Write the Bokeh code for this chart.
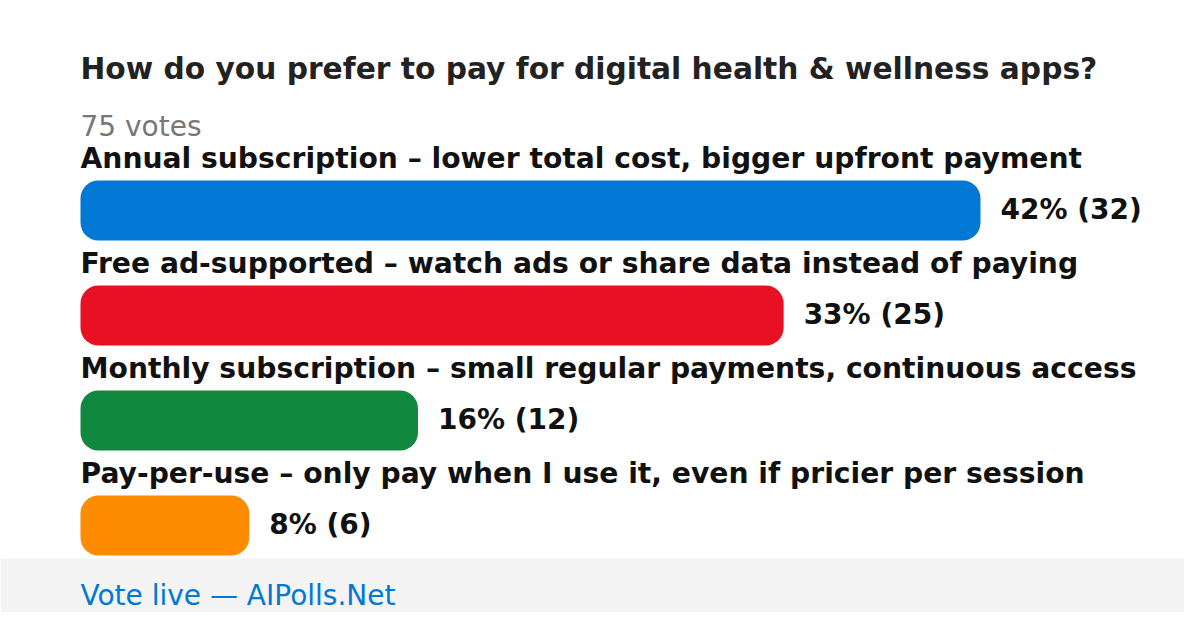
import math
from bokeh.plotting import figure
from bokeh.models import Range1d, BoxAnnotation, ColumnDataSource
from bokeh.core.properties import value
from bokeh.embed import file_html
from bokeh.resources import INLINE

title = "How do you prefer to pay for digital health & wellness apps?"
total_votes = 75
options = [
    "Annual subscription \u2013 lower total cost, bigger upfront payment",
    "Free ad-supported \u2013 watch ads or share data instead of paying",
    "Monthly subscription \u2013 small regular payments, continuous access",
    "Pay-per-use \u2013 only pay when I use it, even if pricier per session",
]
votes = [32, 25, 12, 6]
colors = ["#0078d4", "#e81123", "#10893e", "#ff8c00"]
footer = "Vote live \u2014 AIPolls.Net"

FONT = value("DejaVu Sans")
W, H = 1184, 612
ppv = 900 / max(votes)  # pixels per vote
left_px = 80
x0 = (0 - left_px) / ppv
x1 = (W - left_px) / ppv

p = figure(width=W, height=H, output_backend="svg", toolbar_location=None,
           x_range=Range1d(x0, x1), y_range=Range1d(H, 0),
           min_border=0, outline_line_color=None)
p.axis.visible = False
p.grid.visible = False
p.background_fill_color = "white"
p.border_fill_color = "white"

centers = [210 + 105 * i for i in range(len(votes))]
labels_y = [c - 52 for c in centers]
pct = [f"{math.floor(v * 100 / total_votes)}% ({v})" for v in votes]

src = ColumnDataSource(dict(opt=options, votes=votes, color=colors, y=centers,
                            ly=labels_y, vy=[c - 1 for c in centers], pct=pct,
                            zero=[0] * len(votes)))

p.hbar(y="y", left="zero", right="votes", height=60, fill_color="color",
       line_color=None, border_radius=18, source=src)

p.text(x="zero", y="ly", text="opt", source=src, text_font=FONT,
       text_font_style="bold", text_font_size="28.2px", text_color="#111111",
       text_baseline="alphabetic", text_align="left")

p.text(x="votes", y="vy", text="pct", source=src, x_offset=20, text_font=FONT,
       text_font_style="bold", text_font_size="28px", text_color="#111111",
       text_baseline="middle", text_align="left")

p.text(x=[0], y=[68], text=[title], text_font=FONT, text_font_style="bold",
       text_font_size="29.7px", text_color="#222222", text_baseline="alphabetic")
p.text(x=[0], y=[126], text=[f"{total_votes} votes"], text_font=FONT,
       text_font_size="28px", text_color="#777777", text_baseline="alphabetic")

p.add_layout(BoxAnnotation(top=558, bottom=H + 10, fill_color="#f4f4f4",
                           fill_alpha=1, line_color=None, level="underlay"))
p.text(x=[0], y=[595], text=[footer], text_font=FONT, text_font_size="28px",
       text_color="#0078d4", text_baseline="alphabetic")

open("out.html", "w").write(file_html(p, INLINE))
